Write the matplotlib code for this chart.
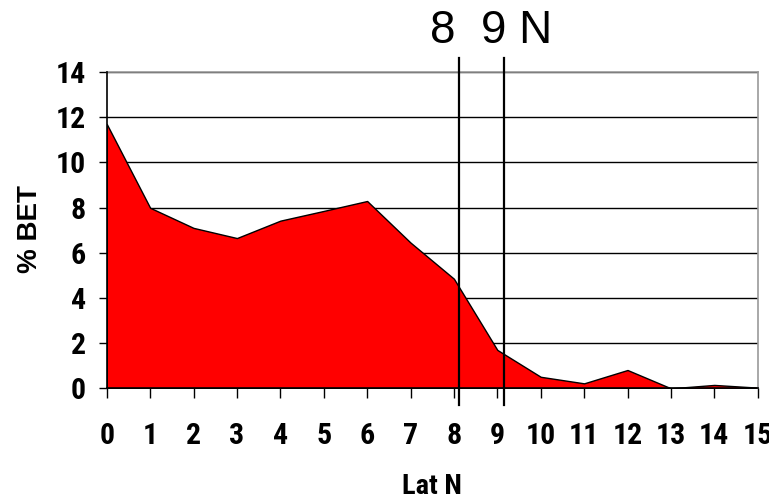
import matplotlib
matplotlib.use("Agg")
import matplotlib.pyplot as plt
import numpy as np

# latitude (deg N) and % BET
lat = [0, 1, 2, 3, 4, 5, 6, 7, 8, 9, 10, 11, 12, 13, 14, 15]
bet = [11.7, 7.99, 7.1, 6.65, 7.42, 7.85, 8.29, 6.45, 4.85, 1.7, 0.51, 0.22, 0.81, 0.0, 0.15, 0.03]
marks = [8.12, 9.16]
yticks = [0, 2, 4, 6, 8, 10, 12, 14]

narrow = ["Arial Narrow", "Liberation Sans Narrow", "Roboto Condensed", "Archivo Narrow", "DejaVu Sans"]
arial = ["Liberation Sans", "DejaVu Sans"]

fig = plt.figure(figsize=(7.69, 5.03), dpi=100)
ax = fig.add_axes([0.1388, 0.228, 0.8465, 0.6289])

ax.fill_between(lat, bet, 0, facecolor="#FF0000", edgecolor="black", linewidth=1.0, zorder=2)

ax.set_xlim(0, 15)
ax.set_ylim(0, 14)
ax.set_xticks(lat)
ax.set_yticks(yticks)
ax.set_axisbelow(True)
ax.yaxis.grid(True, color="black", linewidth=1.0)

for s in ["top", "right"]:
    ax.spines[s].set_color("#999999")
    ax.spines[s].set_linewidth(1.2)
for s in ["left", "bottom"]:
    ax.spines[s].set_color("black")
    ax.spines[s].set_linewidth(1.2)
    ax.spines[s].set_zorder(3)

ax.tick_params(axis="x", direction="out", length=7.5, width=1, pad=17)
ax.tick_params(axis="y", direction="out", length=6, width=1, pad=9)
for lab in ax.get_xticklabels() + ax.get_yticklabels():
    lab.set_family(narrow)
    lab.set_fontweight("bold")
    lab.set_fontsize(21.5)

# the two reference latitudes
for m in marks:
    ax.plot([m, m], [-0.74, 14.62], color="black", linewidth=1.6, clip_on=False, zorder=4)

fig.text(432 / 769, 1 - 487 / 503, "Lat N", family=narrow, fontweight="bold", fontsize=20.5,
         ha="center", va="center")
fig.text(30 / 769, 1 - 229 / 503, "% BET", family=arial, fontweight="bold", fontsize=20,
         rotation=90, ha="center", va="center")

fig.text(0.5592, 0.915, "8  9 N", family=arial, fontsize=33, ha="left", va="baseline")

fig.savefig("out.png", dpi=100)
